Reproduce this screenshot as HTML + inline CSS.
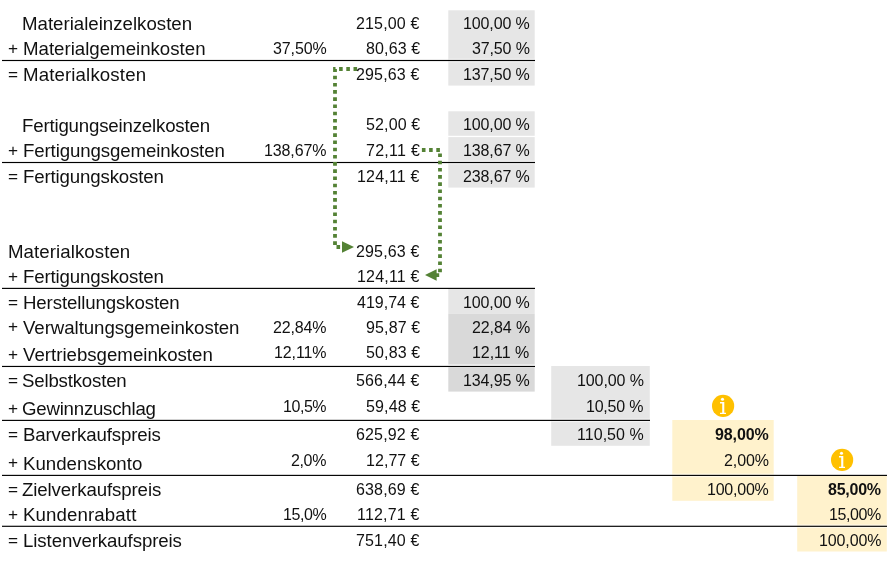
<!DOCTYPE html>
<html><head><meta charset="utf-8"><title>Kalkulation</title>
<style>
html,body{margin:0;padding:0;background:#fff}
body{width:895px;height:561px;position:relative;overflow:hidden;font-family:"Liberation Sans",sans-serif;color:#111}
.t{position:absolute;white-space:pre;line-height:24px}
.l{font-size:18.67px}
.s{font-size:17.2px}
.n{font-size:16px}
.b{font-size:16px;font-weight:bold}
#tx{position:absolute;left:0;top:0;width:895px;height:561px;will-change:transform}
</style></head><body>
<svg width="895" height="561" viewBox="0 0 895 561" style="position:absolute;left:0;top:0">
<rect x="448.3" y="10.3" width="86.40" height="75.30" fill="#e6e6e6"/>
<rect x="448.3" y="111.3" width="86.40" height="24.50" fill="#e6e6e6"/>
<rect x="448.3" y="137.1" width="86.40" height="50.50" fill="#e6e6e6"/>
<rect x="448.3" y="288.4" width="86.40" height="25.45" fill="#e6e6e6"/>
<rect x="448.3" y="313.85" width="86.40" height="50.70" fill="#d9d9d9"/>
<rect x="448.3" y="367.3" width="86.40" height="24.30" fill="#d9d9d9"/>
<rect x="551.2" y="366.0" width="98.60" height="79.80" fill="#e6e6e6"/>
<rect x="672.3" y="420.0" width="101.40" height="80.80" fill="#fff2cc"/>
<rect x="797.2" y="475.4" width="89.60" height="76.10" fill="#fff2cc"/>
<rect x="448.3" y="58.70" width="86.40" height="3.6" fill="#fff" opacity=".55"/>
<rect x="448.3" y="160.70" width="86.40" height="3.6" fill="#fff" opacity=".55"/>
<rect x="551.2" y="418.60" width="98.60" height="3.6" fill="#fff" opacity=".55"/>
<rect x="672.3" y="473.60" width="101.40" height="3.6" fill="#fff" opacity=".55"/>
<rect x="797.2" y="524.50" width="89.60" height="3.6" fill="#fff" opacity=".55"/>
<rect x="2" y="59.92" width="533" height="1.15" fill="#000"/>
<rect x="2" y="161.93" width="533" height="1.15" fill="#000"/>
<rect x="2" y="287.82" width="533" height="1.15" fill="#000"/>
<rect x="2" y="365.88" width="533" height="1.15" fill="#000"/>
<rect x="2" y="419.82" width="648" height="1.15" fill="#000"/>
<rect x="2" y="474.82" width="885" height="1.15" fill="#000"/>
<rect x="2" y="525.72" width="885" height="1.15" fill="#000"/>
<g fill="none" stroke="#548235" stroke-width="3.8" stroke-dasharray="3.6 3.6" stroke-linejoin="miter">
<path d="M357.1 69 H335 V247 H343"/>
<path d="M421.9 150 H440 V275.1 H436"/>
</g>
<path d="M342 241.3 L354 247 L342 252.7 Z" fill="#548235"/>
<path d="M436.6 269.3 L425 275.1 L436.6 280.8 Z" fill="#548235"/>
<g id="ic" transform="translate(723.1 405.9)">
<circle cx="0" cy="0" r="11.1" fill="#ffc000"/>
<circle cx="-0.6" cy="-6.6" r="1.55" fill="#fff"/>
<path d="M-3.1 -3.9 H1.2 V6.8 H2.9 V8.2 H-3.1 V6.8 H-0.9 V-2.4 H-3.1 Z" fill="#fff"/>
</g>
<g transform="translate(842.1 459.9)">
<circle cx="0" cy="0" r="11.1" fill="#ffc000"/>
<circle cx="-0.6" cy="-6.6" r="1.55" fill="#fff"/>
<path d="M-3.1 -3.9 H1.2 V6.8 H2.9 V8.2 H-3.1 V6.8 H-0.9 V-2.4 H-3.1 Z" fill="#fff"/>
</g></svg>
<div id="tx">
<div class="t l" style="left:22px;top:12px">Materialeinzelkosten</div>
<div class="t l" style="left:23px;top:37px">Materialgemeinkosten</div>
<div class="t s" style="left:8px;top:36px">+</div>
<div class="t l" style="left:23px;top:63px;letter-spacing:0.13px">Materialkosten</div>
<div class="t s" style="left:8px;top:62px">=</div>
<div class="t l" style="left:22px;top:114px;letter-spacing:-0.18px">Fertigungseinzelkosten</div>
<div class="t l" style="left:23px;top:139px;letter-spacing:-0.12px">Fertigungsgemeinkosten</div>
<div class="t s" style="left:8px;top:138px">+</div>
<div class="t l" style="left:23px;top:165px;letter-spacing:-0.15px">Fertigungskosten</div>
<div class="t s" style="left:8px;top:164px">=</div>
<div class="t l" style="left:8px;top:240px;letter-spacing:0.07px">Materialkosten</div>
<div class="t l" style="left:23px;top:265px;letter-spacing:-0.15px">Fertigungskosten</div>
<div class="t s" style="left:8px;top:264px">+</div>
<div class="t l" style="left:23px;top:291px;letter-spacing:-0.12px">Herstellungskosten</div>
<div class="t s" style="left:8px;top:290px">=</div>
<div class="t l" style="left:23px;top:316px;letter-spacing:-0.06px">Verwaltungsgemeinkosten</div>
<div class="t s" style="left:8px;top:314px">+</div>
<div class="t l" style="left:23px;top:343px">Vertriebsgemeinkosten</div>
<div class="t s" style="left:8px;top:342px">+</div>
<div class="t l" style="left:22px;top:369px;letter-spacing:-0.19px">Selbstkosten</div>
<div class="t s" style="left:8px;top:368px">=</div>
<div class="t l" style="left:22px;top:397px;letter-spacing:-0.23px">Gewinnzuschlag</div>
<div class="t s" style="left:8px;top:396px">+</div>
<div class="t l" style="left:23px;top:423px;letter-spacing:-0.14px">Barverkaufspreis</div>
<div class="t s" style="left:8px;top:422px">=</div>
<div class="t l" style="left:23px;top:452px">Kundenskonto</div>
<div class="t s" style="left:8px;top:450px">+</div>
<div class="t l" style="left:22px;top:478px;letter-spacing:-0.11px">Zielverkaufspreis</div>
<div class="t s" style="left:8px;top:477px">=</div>
<div class="t l" style="left:23px;top:503px;letter-spacing:0.12px">Kundenrabatt</div>
<div class="t s" style="left:8px;top:502px">+</div>
<div class="t l" style="left:23px;top:529px;letter-spacing:-0.10px">Listenverkaufspreis</div>
<div class="t s" style="left:8px;top:528px">=</div>
<div class="t n" style="left:273px;top:37px;letter-spacing:-0.10px">37,50%</div>
<div class="t n" style="left:264px;top:139px;letter-spacing:-0.12px">138,67%</div>
<div class="t n" style="left:273px;top:316px;letter-spacing:-0.14px">22,84%</div>
<div class="t n" style="left:274px;top:341px;letter-spacing:-0.10px">12,11%</div>
<div class="t n" style="left:283px;top:395px;letter-spacing:-0.45px">10,5%</div>
<div class="t n" style="left:291px;top:449px;letter-spacing:-0.37px">2,0%</div>
<div class="t n" style="left:283px;top:503px;letter-spacing:-0.38px">15,0%</div>
<div class="t n" style="left:356px;top:12px;letter-spacing:0.16px">215,00 €</div>
<div class="t n" style="left:366px;top:37px;letter-spacing:0.13px">80,63 €</div>
<div class="t n" style="left:356px;top:63px;letter-spacing:0.16px">295,63 €</div>
<div class="t n" style="left:366px;top:113px;letter-spacing:0.13px">52,00 €</div>
<div class="t n" style="left:366px;top:139px;letter-spacing:0.27px">72,11 €</div>
<div class="t n" style="left:357px;top:165px;letter-spacing:0.19px">124,11 €</div>
<div class="t n" style="left:356px;top:240px;letter-spacing:0.16px">295,63 €</div>
<div class="t n" style="left:357px;top:265px;letter-spacing:0.19px">124,11 €</div>
<div class="t n" style="left:357px;top:291px">419,74 €</div>
<div class="t n" style="left:366px;top:316px;letter-spacing:0.13px">95,87 €</div>
<div class="t n" style="left:366px;top:341px;letter-spacing:0.13px">50,83 €</div>
<div class="t n" style="left:356px;top:369px;letter-spacing:0.16px">566,44 €</div>
<div class="t n" style="left:366px;top:395px;letter-spacing:0.13px">59,48 €</div>
<div class="t n" style="left:356px;top:423px;letter-spacing:0.16px">625,92 €</div>
<div class="t n" style="left:366px;top:449px;letter-spacing:0.05px">12,77 €</div>
<div class="t n" style="left:356px;top:478px;letter-spacing:0.16px">638,69 €</div>
<div class="t n" style="left:357px;top:503px;letter-spacing:0.19px">112,71 €</div>
<div class="t n" style="left:356px;top:529px;letter-spacing:0.16px">751,40 €</div>
<div class="t n" style="left:463px;top:12px;letter-spacing:-0.11px">100,00 %</div>
<div class="t n" style="left:472px;top:37px;letter-spacing:-0.13px">37,50 %</div>
<div class="t n" style="left:463px;top:63px;letter-spacing:-0.11px">137,50 %</div>
<div class="t n" style="left:463px;top:113px;letter-spacing:-0.11px">100,00 %</div>
<div class="t n" style="left:463px;top:139px;letter-spacing:-0.11px">138,67 %</div>
<div class="t n" style="left:463px;top:165px;letter-spacing:-0.11px">238,67 %</div>
<div class="t n" style="left:463px;top:291px;letter-spacing:-0.11px">100,00 %</div>
<div class="t n" style="left:472px;top:316px;letter-spacing:-0.10px">22,84 %</div>
<div class="t n" style="left:472px;top:341px;letter-spacing:-0.07px">12,11 %</div>
<div class="t n" style="left:463px;top:369px;letter-spacing:-0.11px">134,95 %</div>
<div class="t n" style="left:577px;top:369px;letter-spacing:-0.10px">100,00 %</div>
<div class="t n" style="left:586px;top:395px;letter-spacing:-0.22px">10,50 %</div>
<div class="t n" style="left:577px;top:423px;letter-spacing:0.04px">110,50 %</div>
<div class="t b" style="left:715px;top:423px;letter-spacing:-0.12px">98,00%</div>
<div class="t n" style="left:724px;top:449px;letter-spacing:-0.10px">2,00%</div>
<div class="t n" style="left:707px;top:478px;letter-spacing:-0.22px">100,00%</div>
<div class="t b" style="left:828px;top:478px;letter-spacing:-0.24px">85,00%</div>
<div class="t n" style="left:829px;top:503px;letter-spacing:-0.40px">15,00%</div>
<div class="t n" style="left:819px;top:529px;letter-spacing:-0.12px">100,00%</div>
</div>
</body></html>
